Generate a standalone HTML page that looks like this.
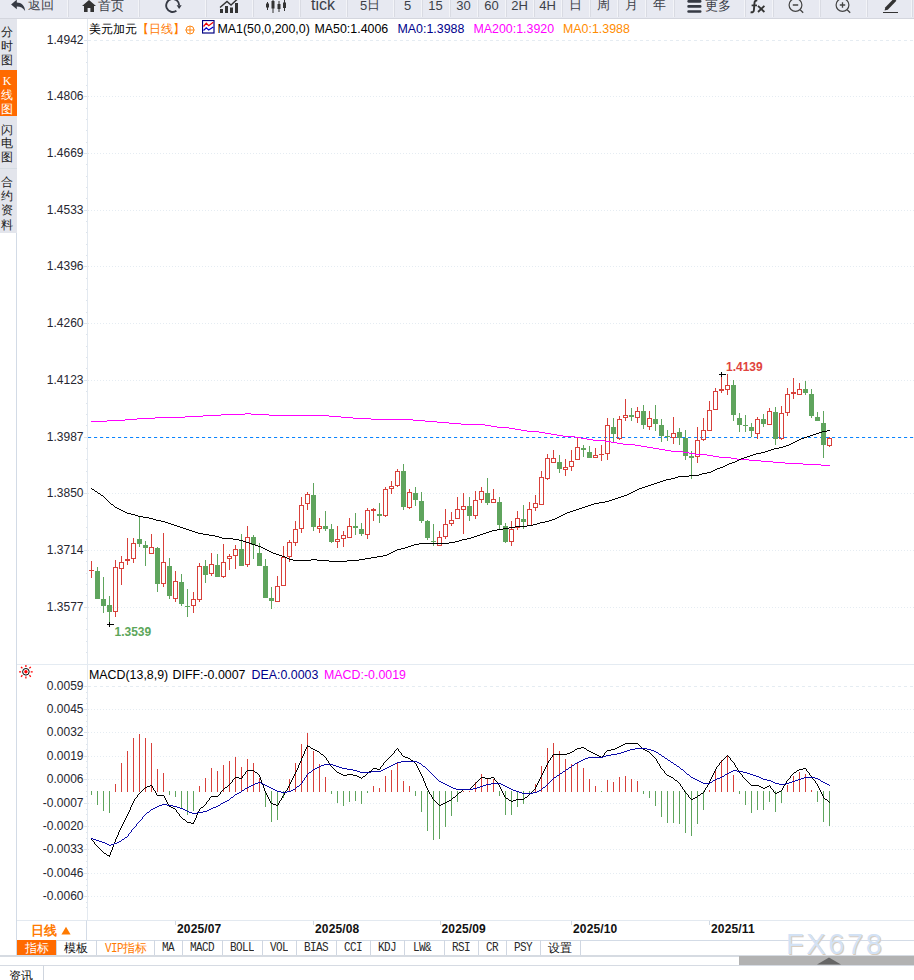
<!DOCTYPE html><html><head><meta charset="utf-8"><title>USDCAD</title><style>
html,body{margin:0;padding:0;background:#fff;}
body{width:914px;height:980px;position:relative;overflow:hidden;font-family:"Liberation Sans",sans-serif;font-size:12px;color:#222;}
.abs{position:absolute;white-space:nowrap;}
.chart{position:absolute;left:0;top:0;}
.tb{position:absolute;left:0;top:0;width:914px;height:18px;background:#e7e9f1;border-bottom:1px solid #d4d6de;}
.tb .b{position:absolute;top:0;height:17px;border-right:1px solid #f3f4f8;box-shadow:1px 0 0 #d9dbe3;font-size:13px;line-height:13px;color:#3c3f48;text-align:center;}
.tb .b span{position:relative;top:-2.2px;}
.side{position:absolute;left:0;width:17px;background:#e3e5ec;color:#222;font-size:12px;text-align:left;box-sizing:border-box;padding-left:0.8px;}
.yl{position:absolute;left:29.5px;width:54px;text-align:right;font-size:12px;line-height:12px;color:#262630;}
.tab{position:absolute;top:940px;height:15px;line-height:17px;overflow:hidden;border-right:1px solid #d0d7e2;text-align:center;font-size:12px;color:#111;box-sizing:border-box;}
.mono{font-family:"Liberation Mono",monospace;font-size:11px;letter-spacing:-0.6px;color:#2a2a2a;}
.mono i{font-style:normal;display:inline-block;transform:scaleY(1.14);transform-origin:50% 60%;}
.dl{position:absolute;top:922px;font-weight:bold;letter-spacing:0.15px;font-size:12px;line-height:14px;color:#111;}
</style></head><body>
<svg class="chart" width="914" height="980" viewBox="0 0 914 980">
<line x1="88" y1="40.5" x2="914" y2="40.5" stroke="#e5ecf2" stroke-dasharray="3 3" shape-rendering="crispEdges"/>
<line x1="88" y1="96.5" x2="914" y2="96.5" stroke="#e5ecf2" stroke-dasharray="1 2" shape-rendering="crispEdges"/>
<line x1="88" y1="153.5" x2="914" y2="153.5" stroke="#e5ecf2" stroke-dasharray="1 2" shape-rendering="crispEdges"/>
<line x1="88" y1="210.5" x2="914" y2="210.5" stroke="#e5ecf2" stroke-dasharray="1 2" shape-rendering="crispEdges"/>
<line x1="88" y1="266.5" x2="914" y2="266.5" stroke="#e5ecf2" stroke-dasharray="1 2" shape-rendering="crispEdges"/>
<line x1="88" y1="323.5" x2="914" y2="323.5" stroke="#e5ecf2" stroke-dasharray="1 2" shape-rendering="crispEdges"/>
<line x1="88" y1="380.5" x2="914" y2="380.5" stroke="#e5ecf2" stroke-dasharray="1 2" shape-rendering="crispEdges"/>
<line x1="88" y1="437.5" x2="914" y2="437.5" stroke="#e5ecf2" stroke-dasharray="1 2" shape-rendering="crispEdges"/>
<line x1="88" y1="493.5" x2="914" y2="493.5" stroke="#e5ecf2" stroke-dasharray="1 2" shape-rendering="crispEdges"/>
<line x1="88" y1="550.5" x2="914" y2="550.5" stroke="#e5ecf2" stroke-dasharray="1 2" shape-rendering="crispEdges"/>
<line x1="88" y1="607.5" x2="914" y2="607.5" stroke="#e5ecf2" stroke-dasharray="1 2" shape-rendering="crispEdges"/>
<line x1="88" y1="686.5" x2="914" y2="686.5" stroke="#e5ecf2" stroke-dasharray="3 3" shape-rendering="crispEdges"/>
<line x1="88" y1="709.5" x2="914" y2="709.5" stroke="#e5ecf2" stroke-dasharray="1 2" shape-rendering="crispEdges"/>
<line x1="88" y1="732.5" x2="914" y2="732.5" stroke="#e5ecf2" stroke-dasharray="1 2" shape-rendering="crispEdges"/>
<line x1="88" y1="756.5" x2="914" y2="756.5" stroke="#e5ecf2" stroke-dasharray="1 2" shape-rendering="crispEdges"/>
<line x1="88" y1="779.5" x2="914" y2="779.5" stroke="#e5ecf2" stroke-dasharray="1 2" shape-rendering="crispEdges"/>
<line x1="88" y1="803.5" x2="914" y2="803.5" stroke="#e5ecf2" stroke-dasharray="1 2" shape-rendering="crispEdges"/>
<line x1="88" y1="826.5" x2="914" y2="826.5" stroke="#e5ecf2" stroke-dasharray="1 2" shape-rendering="crispEdges"/>
<line x1="88" y1="849.5" x2="914" y2="849.5" stroke="#e5ecf2" stroke-dasharray="1 2" shape-rendering="crispEdges"/>
<line x1="88" y1="873.5" x2="914" y2="873.5" stroke="#e5ecf2" stroke-dasharray="1 2" shape-rendering="crispEdges"/>
<line x1="88" y1="896.5" x2="914" y2="896.5" stroke="#e5ecf2" stroke-dasharray="1 2" shape-rendering="crispEdges"/>
<line x1="87.5" y1="19" x2="87.5" y2="920" stroke="#e3e9f0" shape-rendering="crispEdges"/>
<path d="M84 40.5H87 M86 51.5H87 M86 62.5H87 M86 74.5H87 M86 85.5H87 M84 96.5H87 M86 108.5H87 M86 119.5H87 M86 130.5H87 M86 142.5H87 M84 153.5H87 M86 164.5H87 M86 176.5H87 M86 187.5H87 M86 198.5H87 M84 210.5H87 M86 221.5H87 M86 232.5H87 M86 244.5H87 M86 255.5H87 M84 266.5H87 M86 278.5H87 M86 289.5H87 M86 300.5H87 M86 312.5H87 M84 323.5H87 M86 334.5H87 M86 346.5H87 M86 357.5H87 M86 368.5H87 M84 380.5H87 M86 391.5H87 M86 403.5H87 M86 414.5H87 M86 425.5H87 M84 437.5H87 M86 448.5H87 M86 459.5H87 M86 471.5H87 M86 482.5H87 M84 493.5H87 M86 505.5H87 M86 516.5H87 M86 527.5H87 M86 539.5H87 M84 550.5H87 M86 561.5H87 M86 573.5H87 M86 584.5H87 M86 595.5H87 M84 607.5H87 M86 618.5H87 M86 629.5H87 M86 641.5H87 M86 652.5H87 M84 686.5H87 M86 692.5H87 M86 698.5H87 M86 703.5H87 M84 709.5H87 M86 715.5H87 M86 721.5H87 M86 726.5H87 M84 732.5H87 M86 738.5H87 M86 744.5H87 M86 749.5H87 M84 756.5H87 M86 761.5H87 M86 767.5H87 M86 773.5H87 M84 779.5H87 M86 785.5H87 M86 791.5H87 M86 796.5H87 M84 803.5H87 M86 809.5H87 M86 814.5H87 M86 820.5H87 M84 826.5H87 M86 832.5H87 M86 838.5H87 M86 844.5H87 M84 849.5H87 M86 855.5H87 M86 861.5H87 M86 867.5H87 M84 873.5H87 M86 879.5H87 M86 885.5H87 M86 890.5H87 M84 896.5H87 M86 902.5H87 M86 907.5H87" stroke="#dde4ec" shape-rendering="crispEdges" fill="none"/>
<line x1="17" y1="664.5" x2="914" y2="664.5" stroke="#e4ebf2" shape-rendering="crispEdges"/>
 <line x1="16.5" y1="233" x2="16.5" y2="956" stroke="#d3dbe6" shape-rendering="crispEdges"/>
<line x1="88" y1="437.5" x2="914" y2="437.5" stroke="#0a84ff" stroke-dasharray="3 3" shape-rendering="crispEdges"/>
<path d="M97 567h1V599h-1zM95 571h5V599h-5zM103 577h1V613h-1zM101 599h5V606h-5zM109 596h1V622h-1zM107 605h5V612h-5zM139 517h1V547h-1zM137 539h5V544h-5zM145 541h1V566h-1zM143 545h5V548h-5zM157 547h1V592h-1zM155 548h5V584h-5zM169 558h1V599h-1zM167 566h5V596h-5zM181 574h1V606h-1zM179 582h5V604h-5zM187 589h1V617h-1zM185 606h5V607h-5zM205 560h1V583h-1zM203 566h5V575h-5zM217 554h1V577h-1zM215 565h5V577h-5zM241 534h1V566h-1zM239 549h5V566h-5zM253 535h1V559h-1zM251 537h5V545h-5zM259 543h1V566h-1zM257 553h5V566h-5zM265 559h1V598h-1zM263 566h5V598h-5zM271 587h1V609h-1zM269 598h5V601h-5zM313 483h1V531h-1zM311 495h5V527h-5zM325 511h1V531h-1zM323 526h5V529h-5zM331 524h1V543h-1zM329 529h5V542h-5zM355 513h1V535h-1zM353 526h5V528h-5zM361 523h1V536h-1zM359 529h5V534h-5zM379 503h1V523h-1zM377 514h5V516h-5zM403 464h1V510h-1zM401 471h5V507h-5zM415 487h1V506h-1zM413 493h5V500h-5zM421 492h1V523h-1zM419 501h5V521h-5zM427 520h1V540h-1zM425 521h5V538h-5zM433 524h1V546h-1zM431 541h5V542h-5zM469 497h1V521h-1zM467 506h5V516h-5zM487 478h1V505h-1zM485 493h5V503h-5zM499 497h1V529h-1zM497 502h5V525h-5zM505 523h1V543h-1zM503 526h5V542h-5zM523 505h1V529h-1zM521 519h5V522h-5zM559 455h1V473h-1zM557 462h5V469h-5zM583 445h1V457h-1zM581 448h5V450h-5zM589 446h1V458h-1zM587 452h5V458h-5zM613 418h1V442h-1zM611 427h5V434h-5zM631 408h1V421h-1zM629 415h5V417h-5zM643 405h1V429h-1zM641 411h5V425h-5zM655 405h1V431h-1zM653 419h5V424h-5zM661 419h1V442h-1zM659 425h5V436h-5zM667 430h1V441h-1zM665 436h5V437h-5zM679 428h1V445h-1zM677 432h5V438h-5zM685 430h1V460h-1zM683 438h5V456h-5zM691 451h1V479h-1zM689 456h5V458h-5zM733 380h1V421h-1zM731 385h5V415h-5zM739 413h1V432h-1zM737 418h5V425h-5zM745 415h1V432h-1zM743 425h5V426h-5zM751 423h1V437h-1zM749 427h5V431h-5zM763 414h1V427h-1zM761 419h5V424h-5zM775 407h1V445h-1zM773 412h5V439h-5zM805 381h1V395h-1zM803 389h5V393h-5zM811 389h1V418h-1zM809 394h5V416h-5zM817 412h1V421h-1zM815 417h5V421h-5zM823 411h1V458h-1zM821 423h5V445h-5z" fill="#5fa45d" shape-rendering="crispEdges"/>
<path d="M91 561h1V578h-1zM89 570h5v1h-5zM115 560h1V567h-1zM115 612h1V617h-1zM121 556h1V562h-1zM121 569h1V585h-1zM127 538h1V559h-1zM127 561h1V565h-1zM133 538h1V543h-1zM133 559h1V563h-1zM151 534h1V547h-1zM163 533h1V562h-1zM163 584h1V587h-1zM175 571h1V581h-1zM175 599h1V602h-1zM193 592h1V599h-1zM193 606h1V613h-1zM199 563h1V566h-1zM199 600h1V602h-1zM211 553h1V564h-1zM211 574h1V576h-1zM223 544h1V562h-1zM223 577h1V578h-1zM229 554h1V556h-1zM229 559h1V570h-1zM235 545h1V549h-1zM235 556h1V569h-1zM247 526h1V537h-1zM247 565h1V567h-1zM277 576h1V586h-1zM283 546h1V557h-1zM289 540h1V542h-1zM289 557h1V562h-1zM295 521h1V529h-1zM295 543h1V546h-1zM301 497h1V505h-1zM301 529h1V533h-1zM307 492h1V494h-1zM307 504h1V510h-1zM319 518h1V526h-1zM319 529h1V533h-1zM337 526h1V539h-1zM337 542h1V548h-1zM343 531h1V535h-1zM343 539h1V547h-1zM349 518h1V526h-1zM367 508h1V510h-1zM367 535h1V539h-1zM373 508h1V509h-1zM373 511h1V521h-1zM385 487h1V489h-1zM385 516h1V517h-1zM391 481h1V486h-1zM391 489h1V494h-1zM397 469h1V471h-1zM397 486h1V487h-1zM409 489h1V492h-1zM409 508h1V509h-1zM439 531h1V537h-1zM445 509h1V524h-1zM445 537h1V539h-1zM451 512h1V520h-1zM451 524h1V526h-1zM457 497h1V509h-1zM463 493h1V506h-1zM463 510h1V534h-1zM475 491h1V500h-1zM475 516h1V519h-1zM481 487h1V491h-1zM481 500h1V503h-1zM493 489h1V499h-1zM511 521h1V529h-1zM511 542h1V546h-1zM517 511h1V518h-1zM517 528h1V530h-1zM529 502h1V509h-1zM535 495h1V503h-1zM535 508h1V511h-1zM541 471h1V477h-1zM547 454h1V458h-1zM547 479h1V480h-1zM553 450h1V458h-1zM565 459h1V467h-1zM565 470h1V476h-1zM571 450h1V461h-1zM571 467h1V471h-1zM577 438h1V447h-1zM595 448h1V455h-1zM601 445h1V461h-1zM599 454h5v1h-5zM607 418h1V425h-1zM607 454h1V460h-1zM619 416h1V419h-1zM619 439h1V440h-1zM625 399h1V415h-1zM625 418h1V421h-1zM637 407h1V411h-1zM637 418h1V423h-1zM649 411h1V418h-1zM649 427h1V430h-1zM673 417h1V433h-1zM673 438h1V444h-1zM697 427h1V440h-1zM697 457h1V463h-1zM703 418h1V430h-1zM703 440h1V441h-1zM709 401h1V410h-1zM715 388h1V391h-1zM721 375h1V389h-1zM721 391h1V393h-1zM727 374h1V385h-1zM727 390h1V395h-1zM757 417h1V419h-1zM757 434h1V439h-1zM769 408h1V411h-1zM781 406h1V413h-1zM781 439h1V440h-1zM787 388h1V394h-1zM787 413h1V416h-1zM793 378h1V392h-1zM793 394h1V399h-1zM799 383h1V389h-1zM829 437h1V438h-1zM829 446h1V447h-1z" fill="#d8403a" shape-rendering="crispEdges"/>
<path d="M113.5 567.5h4V611.5h-4zM119.5 562.5h4V568.5h-4zM125.5 559.5h4V560.5h-4zM131.5 543.5h4V558.5h-4zM149.5 547.5h4V553.5h-4zM161.5 562.5h4V583.5h-4zM173.5 581.5h4V598.5h-4zM191.5 599.5h4V605.5h-4zM197.5 566.5h4V599.5h-4zM209.5 564.5h4V573.5h-4zM221.5 562.5h4V576.5h-4zM227.5 556.5h4V558.5h-4zM233.5 549.5h4V555.5h-4zM245.5 537.5h4V564.5h-4zM275.5 586.5h4V601.5h-4zM281.5 557.5h4V585.5h-4zM287.5 542.5h4V556.5h-4zM293.5 529.5h4V542.5h-4zM299.5 505.5h4V528.5h-4zM305.5 494.5h4V503.5h-4zM317.5 526.5h4V528.5h-4zM335.5 539.5h4V541.5h-4zM341.5 535.5h4V538.5h-4zM347.5 526.5h4V537.5h-4zM365.5 510.5h4V534.5h-4zM371.5 509.5h4V510.5h-4zM383.5 489.5h4V515.5h-4zM389.5 486.5h4V488.5h-4zM395.5 471.5h4V485.5h-4zM407.5 492.5h4V507.5h-4zM437.5 537.5h4V545.5h-4zM443.5 524.5h4V536.5h-4zM449.5 520.5h4V523.5h-4zM455.5 509.5h4V518.5h-4zM461.5 506.5h4V509.5h-4zM473.5 500.5h4V515.5h-4zM479.5 491.5h4V499.5h-4zM491.5 499.5h4V502.5h-4zM509.5 529.5h4V541.5h-4zM515.5 518.5h4V527.5h-4zM527.5 509.5h4V525.5h-4zM533.5 503.5h4V507.5h-4zM539.5 477.5h4V504.5h-4zM545.5 458.5h4V478.5h-4zM551.5 458.5h4V462.5h-4zM563.5 467.5h4V469.5h-4zM569.5 461.5h4V466.5h-4zM575.5 447.5h4V459.5h-4zM593.5 455.5h4V457.5h-4zM605.5 425.5h4V453.5h-4zM617.5 419.5h4V438.5h-4zM623.5 415.5h4V417.5h-4zM635.5 411.5h4V417.5h-4zM647.5 418.5h4V426.5h-4zM671.5 433.5h4V437.5h-4zM695.5 440.5h4V456.5h-4zM701.5 430.5h4V439.5h-4zM707.5 410.5h4V430.5h-4zM713.5 391.5h4V409.5h-4zM719.5 389.5h4V390.5h-4zM725.5 385.5h4V389.5h-4zM755.5 419.5h4V433.5h-4zM767.5 411.5h4V424.5h-4zM779.5 413.5h4V438.5h-4zM785.5 394.5h4V412.5h-4zM791.5 392.5h4V393.5h-4zM797.5 389.5h4V394.5h-4zM827.5 438.5h4V445.5h-4z" fill="none" stroke="#d8403a" stroke-width="1" shape-rendering="crispEdges"/>
<path d="M203 415h18v1h-18zM269 415h60v1h-60zM91 421h16v1h-16zM425 421h12v1h-12zM785 463h18v1h-18zM821 465h9v1h-9zM497 427h12v1h-12zM221 414h24v1h-24zM251 414h18v1h-18zM107 420h18v1h-18zM413 420h12v1h-12zM587 439h6v1h-6zM605 441h6v1h-6zM125 419h12v1h-12zM371 419h42v1h-42zM803 464h18v1h-18zM593 440h12v1h-12zM155 417h30v1h-30zM341 417h12v1h-12zM737 459h12v1h-12zM761 461h12v1h-12zM449 423h12v1h-12zM749 460h12v1h-12zM773 462h12v1h-12zM437 422h12v1h-12zM461 424h24v1h-24zM491 426h6v1h-6zM185 416h18v1h-18zM329 416h12v1h-12zM137 418h18v1h-18zM353 418h18v1h-18zM623 444h12v1h-12zM665 450h6v1h-6zM671 451h12v1h-12zM635 445h6v1h-6zM647 447h6v1h-6zM557 435h6v1h-6zM515 429h6v1h-6zM527 431h12v1h-12zM485 425h6v1h-6zM653 448h6v1h-6zM695 454h12v1h-12zM575 437h6v1h-6zM707 455h6v1h-6zM719 457h12v1h-12zM545 433h6v1h-6zM731 458h6v1h-6zM641 446h6v1h-6zM611 442h6v1h-6zM563 436h12v1h-12zM659 449h6v1h-6zM617 443h6v1h-6zM713 456h6v1h-6zM683 452h6v1h-6zM551 434h6v1h-6zM521 430h6v1h-6zM245 413h6v1h-6zM581 438h6v1h-6zM539 432h6v1h-6zM509 428h6v1h-6zM689 453h6v1h-6z" fill="#ff00ff" shape-rendering="crispEdges"/>
<path d="M594 503h5v1h-5zM161 521h4v1h-4zM545 521h4v1h-4zM249 543h3v1h-3zM419 543h30v1h-30zM117 508h2v1h-2zM579 508h3v1h-3zM627 494h2v1h-2zM827 430h3v1h-3zM741 458h3v1h-3zM804 437h3v1h-3zM585 506h3v1h-3zM125 512h2v1h-2zM567 512h3v1h-3zM689 475h10v1h-10zM753 454h3v1h-3zM657 482h3v1h-3zM143 517h6v1h-6zM557 517h2v1h-2zM799 439h2v1h-2zM727 464h2v1h-2zM252 544h3v1h-3zM414 544h5v1h-5zM678 476h11v1h-11zM293 560h18v1h-18zM317 560h12v1h-12zM347 560h12v1h-12zM203 534h6v1h-6zM480 534h3v1h-3zM138 516h5v1h-5zM559 516h2v1h-2zM287 558h2v1h-2zM365 558h6v1h-6zM717 468h3v1h-3zM233 539h6v1h-6zM462 539h5v1h-5zM329 561h18v1h-18zM246 542h3v1h-3zM449 542h6v1h-6zM732 462h3v1h-3zM783 446h3v1h-3zM215 536h4v1h-4zM474 536h3v1h-3zM127 513h4v1h-4zM565 513h2v1h-2zM816 433h3v1h-3zM165 522h3v1h-3zM540 522h5v1h-5zM121 510h2v1h-2zM573 510h3v1h-3zM269 551h2v1h-2zM393 551h2v1h-2zM189 530h3v1h-3zM492 530h5v1h-5zM168 523h3v1h-3zM537 523h3v1h-3zM177 526h3v1h-3zM515 526h12v1h-12zM671 478h4v1h-4zM654 483h3v1h-3zM123 511h2v1h-2zM570 511h3v1h-3zM273 553h3v1h-3zM389 553h2v1h-2zM171 524h3v1h-3zM533 524h4v1h-4zM149 518h4v1h-4zM555 518h2v1h-2zM222 538h11v1h-11zM467 538h4v1h-4zM131 514h4v1h-4zM563 514h2v1h-2zM707 472h4v1h-4zM265 549h2v1h-2zM397 549h4v1h-4zM771 449h3v1h-3zM156 520h5v1h-5zM549 520h3v1h-3zM174 525h3v1h-3zM527 525h6v1h-6zM261 547h2v1h-2zM405 547h3v1h-3zM795 441h2v1h-2zM723 466h2v1h-2zM605 501h4v1h-4zM289 559h4v1h-4zM311 559h6v1h-6zM359 559h6v1h-6zM267 550h2v1h-2zM395 550h2v1h-2zM258 546h3v1h-3zM408 546h3v1h-3zM186 529h3v1h-3zM497 529h6v1h-6zM660 481h3v1h-3zM119 509h2v1h-2zM576 509h3v1h-3zM282 556h3v1h-3zM377 556h6v1h-6zM219 537h3v1h-3zM471 537h3v1h-3zM779 447h4v1h-4zM95 491h2v1h-2zM633 491h2v1h-2zM750 455h3v1h-3zM642 487h3v1h-3zM255 545h3v1h-3zM411 545h3v1h-3zM588 505h3v1h-3zM135 515h3v1h-3zM561 515h2v1h-2zM612 499h3v1h-3zM263 548h2v1h-2zM401 548h4v1h-4zM666 479h5v1h-5zM111 504h2v1h-2zM591 504h3v1h-3zM101 495h2v1h-2zM624 495h3v1h-3zM279 555h3v1h-3zM383 555h4v1h-4zM807 436h3v1h-3zM702 473h5v1h-5zM621 496h3v1h-3zM756 453h5v1h-5zM271 552h2v1h-2zM391 552h2v1h-2zM239 540h4v1h-4zM459 540h3v1h-3zM648 485h3v1h-3zM618 497h3v1h-3zM822 431h5v1h-5zM599 502h6v1h-6zM761 452h4v1h-4zM791 443h2v1h-2zM180 527h3v1h-3zM509 527h6v1h-6zM153 519h3v1h-3zM552 519h3v1h-3zM276 554h3v1h-3zM387 554h2v1h-2zM801 438h3v1h-3zM98 493h2v1h-2zM629 493h2v1h-2zM183 528h3v1h-3zM503 528h6v1h-6zM285 557h2v1h-2zM371 557h6v1h-6zM115 507h2v1h-2zM582 507h3v1h-3zM729 463h3v1h-3zM645 486h3v1h-3zM774 448h5v1h-5zM635 490h2v1h-2zM192 531h3v1h-3zM489 531h3v1h-3zM639 488h3v1h-3zM813 434h3v1h-3zM797 440h2v1h-2zM819 432h3v1h-3zM651 484h3v1h-3zM725 465h2v1h-2zM209 535h6v1h-6zM477 535h3v1h-3zM243 541h3v1h-3zM455 541h4v1h-4zM699 474h3v1h-3zM195 532h3v1h-3zM486 532h3v1h-3zM609 500h3v1h-3zM737 460h2v1h-2zM789 444h2v1h-2zM793 442h2v1h-2zM675 477h3v1h-3zM765 451h3v1h-3zM747 456h3v1h-3zM198 533h5v1h-5zM483 533h3v1h-3zM663 480h3v1h-3zM92 489h2v1h-2zM637 489h2v1h-2zM615 498h3v1h-3zM810 435h3v1h-3zM786 445h3v1h-3zM713 470h2v1h-2zM744 457h3v1h-3zM739 459h2v1h-2zM768 450h3v1h-3zM715 469h2v1h-2zM720 467h3v1h-3zM735 461h2v1h-2zM711 471h2v1h-2zM631 492h2v1h-2zM107 500h1v1h-1zM113 505h1v1h-1zM109 502h1v1h-1zM106 499h1v1h-1zM110 503h1v1h-1zM108 501h1v1h-1zM114 506h1v1h-1zM103 496h1v1h-1zM97 492h1v1h-1zM105 498h1v1h-1zM100 494h1v1h-1zM104 497h1v1h-1zM91 488h1v1h-1zM94 490h1v1h-1z" fill="#000" shape-rendering="crispEdges"/>
<path d="M719 374.5h7M721.5 372v5M107 624.5h7M109.5 622v5" stroke="#000" fill="none" shape-rendering="crispEdges"/>
<path d="M91 791h1V795h-1zM97 791h1V805h-1zM103 791h1V811h-1zM109 791h1V813h-1zM169 791h1V795h-1zM175 791h1V797h-1zM181 791h1V809h-1zM187 791h1V815h-1zM193 791h1V811h-1zM265 791h1V807h-1zM271 791h1V822h-1zM277 791h1V820h-1zM283 791h1V798h-1zM331 791h1V794h-1zM337 791h1V803h-1zM343 791h1V806h-1zM349 791h1V802h-1zM355 791h1V801h-1zM361 791h1V804h-1zM367 791h1V793h-1zM415 791h1V796h-1zM421 791h1V812h-1zM427 791h1V831h-1zM433 791h1V840h-1zM439 791h1V839h-1zM445 791h1V827h-1zM451 791h1V816h-1zM457 791h1V802h-1zM499 791h1V796h-1zM505 791h1V815h-1zM511 791h1V815h-1zM517 791h1V807h-1zM523 791h1V804h-1zM529 791h1V795h-1zM601 791h1V792h-1zM643 791h1V794h-1zM649 791h1V798h-1zM655 791h1V806h-1zM661 791h1V817h-1zM667 791h1V823h-1zM673 791h1V823h-1zM679 791h1V824h-1zM685 791h1V833h-1zM691 791h1V836h-1zM697 791h1V824h-1zM703 791h1V810h-1zM739 791h1V794h-1zM745 791h1V805h-1zM751 791h1V813h-1zM757 791h1V810h-1zM763 791h1V810h-1zM769 791h1V802h-1zM775 791h1V812h-1zM781 791h1V803h-1zM817 791h1V802h-1zM823 791h1V822h-1zM829 791h1V826h-1z" fill="#5fa45d" shape-rendering="crispEdges"/>
<path d="M115 784h1V792h-1zM121 763h1V792h-1zM127 751h1V792h-1zM133 738h1V792h-1zM139 734h1V792h-1zM145 738h1V792h-1zM151 743h1V792h-1zM157 769h1V792h-1zM163 773h1V792h-1zM199 786h1V792h-1zM205 778h1V792h-1zM211 768h1V792h-1zM217 771h1V792h-1zM223 765h1V792h-1zM229 761h1V792h-1zM235 757h1V792h-1zM241 767h1V792h-1zM247 759h1V792h-1zM253 763h1V792h-1zM259 778h1V792h-1zM289 779h1V792h-1zM295 763h1V792h-1zM301 744h1V792h-1zM307 733h1V792h-1zM313 751h1V792h-1zM319 764h1V792h-1zM325 777h1V792h-1zM373 786h1V792h-1zM379 788h1V792h-1zM385 776h1V792h-1zM391 770h1V792h-1zM397 762h1V792h-1zM403 781h1V792h-1zM409 786h1V792h-1zM463 791h1V792h-1zM469 791h1V792h-1zM475 782h1V792h-1zM481 774h1V792h-1zM487 778h1V792h-1zM493 779h1V792h-1zM535 784h1V792h-1zM541 766h1V792h-1zM547 748h1V792h-1zM553 743h1V792h-1zM559 751h1V792h-1zM565 759h1V792h-1zM571 764h1V792h-1zM577 763h1V792h-1zM583 768h1V792h-1zM589 779h1V792h-1zM595 786h1V792h-1zM607 780h1V792h-1zM613 782h1V792h-1zM619 777h1V792h-1zM625 776h1V792h-1zM631 779h1V792h-1zM637 781h1V792h-1zM709 790h1V792h-1zM715 770h1V792h-1zM721 760h1V792h-1zM727 756h1V792h-1zM733 775h1V792h-1zM787 785h1V792h-1zM793 776h1V792h-1zM799 772h1V792h-1zM805 774h1V792h-1zM811 790h1V792h-1z" fill="#d8403a" shape-rendering="crispEdges"/>
<path d="M625 743h13v1h-13zM779 791h2v1h-2zM341 774h2v1h-2zM347 774h6v1h-6zM453 797h2v1h-2zM525 797h2v1h-2zM695 797h2v1h-2zM373 768h4v1h-4zM803 768h3v1h-3zM211 796h7v1h-7zM313 749h2v1h-2zM575 749h2v1h-2zM611 749h4v1h-4zM643 749h2v1h-2zM516 799h8v1h-8zM691 799h2v1h-2zM825 799h2v1h-2zM157 795h7v1h-7zM698 795h2v1h-2zM447 801h2v1h-2zM511 801h2v1h-2zM276 805h2v1h-2zM439 805h2v1h-2zM339 773h2v1h-2zM145 787h2v1h-2zM225 787h2v1h-2zM761 787h2v1h-2zM765 787h2v1h-2zM623 744h2v1h-2zM343 775h4v1h-4zM353 775h4v1h-4zM667 775h2v1h-2zM597 755h2v1h-2zM187 822h4v1h-4zM763 788h2v1h-2zM307 746h3v1h-3zM619 746h2v1h-2zM570 752h2v1h-2zM591 752h2v1h-2zM369 771h2v1h-2zM235 777h4v1h-4zM359 777h2v1h-2zM481 777h4v1h-4zM491 777h3v1h-3zM671 777h2v1h-2zM321 754h2v1h-2zM553 754h14v1h-14zM595 754h2v1h-2zM357 776h2v1h-2zM363 776h2v1h-2zM669 776h2v1h-2zM459 792h2v1h-2zM777 792h2v1h-2zM377 769h3v1h-3zM799 769h4v1h-4zM506 798h2v1h-2zM693 798h2v1h-2zM239 778h3v1h-3zM485 778h6v1h-6zM701 793h2v1h-2zM775 793h2v1h-2zM411 760h2v1h-2zM449 800h2v1h-2zM509 800h2v1h-2zM513 800h3v1h-3zM247 770h7v1h-7zM797 770h2v1h-2zM315 750h2v1h-2zM587 750h2v1h-2zM607 750h4v1h-4zM645 750h2v1h-2zM255 772h2v1h-2zM337 772h2v1h-2zM794 772h2v1h-2zM317 751h2v1h-2zM572 751h2v1h-2zM589 751h2v1h-2zM647 751h2v1h-2zM147 786h3v1h-3zM759 786h2v1h-2zM767 786h2v1h-2zM567 753h3v1h-3zM593 753h2v1h-2zM403 756h2v1h-2zM599 756h2v1h-2zM675 780h2v1h-2zM169 806h2v1h-2zM271 803h2v1h-2zM443 803h2v1h-2zM405 757h3v1h-3zM311 748h2v1h-2zM577 748h4v1h-4zM584 748h2v1h-2zM615 748h2v1h-2zM463 789h7v1h-7zM150 785h2v1h-2zM751 785h8v1h-8zM173 808h2v1h-2zM445 802h2v1h-2zM621 745h2v1h-2zM191 823h3v1h-3zM273 804h3v1h-3zM441 804h2v1h-2zM408 758h2v1h-2zM581 747h3v1h-3zM617 747h2v1h-2zM183 819h2v1h-2zM171 807h2v1h-2zM201 807h2v1h-2zM107 855h3v1h-3zM104 853h2v1h-2zM221 791h1v1h-1zM684 790h1v2h-1zM505 797h1v1h-1zM297 768h1v2h-1zM244 774h1v1h-1zM433 799h1v1h-1zM820 790h1v2h-1zM204 805h1v1h-1zM129 810h1v2h-1zM426 786h1v2h-1zM552 755h1v2h-1zM498 784h1v1h-1zM193 822h1v1h-1zM535 787h1v2h-1zM723 759h1v1h-1zM421 774h1v2h-1zM400 752h1v1h-1zM817 784h1v2h-1zM115 839h1v3h-1zM296 770h1v2h-1zM422 776h1v2h-1zM265 791h1v2h-1zM737 768h1v2h-1zM718 765h1v1h-1zM432 797h1v2h-1zM548 761h1v2h-1zM120 828h1v2h-1zM266 793h1v2h-1zM301 758h1v3h-1zM710 779h1v2h-1zM415 763h1v1h-1zM428 790h1v2h-1zM155 791h1v2h-1zM292 778h1v2h-1zM166 800h1v2h-1zM304 751h1v3h-1zM806 769h1v2h-1zM501 789h1v2h-1zM734 763h1v2h-1zM429 792h1v2h-1zM504 795h1v2h-1zM112 847h1v3h-1zM399 751h1v1h-1zM786 781h1v2h-1zM124 820h1v2h-1zM653 756h1v1h-1zM714 771h1v2h-1zM539 779h1v2h-1zM497 782h1v2h-1zM654 757h1v1h-1zM140 792h1v1h-1zM384 762h1v1h-1zM361 778h1v1h-1zM268 797h1v2h-1zM479 779h1v1h-1zM111 850h1v2h-1zM782 788h1v2h-1zM418 768h1v2h-1zM135 798h1v1h-1zM470 788h1v1h-1zM733 762h1v1h-1zM705 788h1v2h-1zM736 767h1v1h-1zM414 762h1v1h-1zM128 812h1v2h-1zM530 793h1v1h-1zM686 793h1v1h-1zM279 801h1v2h-1zM527 796h1v1h-1zM165 798h1v2h-1zM119 830h1v2h-1zM639 745h1v1h-1zM396 749h1v1h-1zM131 805h1v2h-1zM500 787h1v2h-1zM425 783h1v3h-1zM605 752h1v1h-1zM687 794h1v1h-1zM657 761h1v2h-1zM295 772h1v2h-1zM323 755h1v1h-1zM261 780h1v3h-1zM819 788h1v2h-1zM242 776h1v2h-1zM368 772h1v1h-1zM410 759h1v1h-1zM661 768h1v1h-1zM391 755h1v1h-1zM402 755h1v1h-1zM748 782h1v1h-1zM372 769h1v1h-1zM300 761h1v2h-1zM223 789h1v1h-1zM118 832h1v3h-1zM333 768h1v1h-1zM258 774h1v1h-1zM99 848h1v1h-1zM770 786h1v2h-1zM291 780h1v2h-1zM417 766h1v2h-1zM227 786h1v1h-1zM303 754h1v2h-1zM334 769h1v1h-1zM638 744h1v1h-1zM543 771h1v2h-1zM574 750h1v1h-1zM740 773h1v1h-1zM100 849h1v1h-1zM461 791h1v1h-1zM218 795h1v1h-1zM123 822h1v2h-1zM713 773h1v2h-1zM199 809h1v2h-1zM725 757h1v1h-1zM431 795h1v2h-1zM789 778h1v1h-1zM474 784h1v1h-1zM203 806h1v1h-1zM383 763h1v2h-1zM747 781h1v1h-1zM496 781h1v1h-1zM499 785h1v2h-1zM435 801h1v1h-1zM257 773h1v1h-1zM660 766h1v2h-1zM260 777h1v3h-1zM709 781h1v2h-1zM230 783h1v1h-1zM198 811h1v2h-1zM92 840h1v1h-1zM420 772h1v2h-1zM286 790h1v1h-1zM717 766h1v1h-1zM130 807h1v3h-1zM267 795h1v2h-1zM538 781h1v2h-1zM739 772h1v1h-1zM310 747h1v1h-1zM416 764h1v2h-1zM264 788h1v3h-1zM708 783h1v2h-1zM386 760h1v1h-1zM206 802h1v2h-1zM430 794h1v1h-1zM649 752h1v1h-1zM427 788h1v2h-1zM796 771h1v1h-1zM282 796h1v2h-1zM807 771h1v1h-1zM110 852h1v3h-1zM534 789h1v1h-1zM808 772h1v1h-1zM704 790h1v2h-1zM656 759h1v2h-1zM106 854h1v1h-1zM424 781h1v2h-1zM134 799h1v2h-1zM720 762h1v1h-1zM278 803h1v2h-1zM113 844h1v3h-1zM712 775h1v2h-1zM176 810h1v2h-1zM785 783h1v2h-1zM735 765h1v2h-1zM294 774h1v2h-1zM738 770h1v2h-1zM769 785h1v1h-1zM142 790h1v1h-1zM434 800h1v1h-1zM783 786h1v2h-1zM299 763h1v2h-1zM689 797h1v1h-1zM544 769h1v2h-1zM659 764h1v2h-1zM290 782h1v2h-1zM302 756h1v2h-1zM137 795h1v2h-1zM472 786h1v1h-1zM94 842h1v2h-1zM401 753h1v2h-1zM122 824h1v2h-1zM537 783h1v2h-1zM452 798h1v1h-1zM423 778h1v3h-1zM298 765h1v3h-1zM95 844h1v1h-1zM728 756h1v1h-1zM289 784h1v2h-1zM529 794h1v1h-1zM175 809h1v1h-1zM281 798h1v2h-1zM688 795h1v2h-1zM742 775h1v2h-1zM101 850h1v1h-1zM773 790h1v2h-1zM678 782h1v1h-1zM209 798h1v2h-1zM263 785h1v3h-1zM336 771h1v1h-1zM197 813h1v2h-1zM640 746h1v1h-1zM232 780h1v2h-1zM102 851h1v1h-1zM306 747h1v2h-1zM393 753h1v1h-1zM602 756h1v1h-1zM285 791h1v2h-1zM117 835h1v2h-1zM716 767h1v2h-1zM719 763h1v2h-1zM655 758h1v1h-1zM658 763h1v1h-1zM749 783h1v1h-1zM259 775h1v2h-1zM811 776h1v1h-1zM324 756h1v1h-1zM229 784h1v1h-1zM707 785h1v2h-1zM456 795h1v1h-1zM365 775h1v1h-1zM293 776h1v2h-1zM220 792h1v2h-1zM325 757h1v1h-1zM828 801h1v1h-1zM727 755h1v1h-1zM335 770h1v1h-1zM476 782h1v1h-1zM205 804h1v1h-1zM677 781h1v1h-1zM791 775h1v1h-1zM385 761h1v1h-1zM741 774h1v1h-1zM772 789h1v1h-1zM133 801h1v2h-1zM541 775h1v2h-1zM809 773h1v2h-1zM156 793h1v2h-1zM711 777h1v2h-1zM703 792h1v1h-1zM810 775h1v1h-1zM93 841h1v1h-1zM662 769h1v1h-1zM673 778h1v1h-1zM328 761h1v2h-1zM196 815h1v3h-1zM144 788h1v1h-1zM388 758h1v1h-1zM208 800h1v1h-1zM771 788h1v1h-1zM177 812h1v1h-1zM243 775h1v1h-1zM319 752h1v1h-1zM178 813h1v1h-1zM380 767h1v2h-1zM551 757h1v1h-1zM116 837h1v2h-1zM715 769h1v2h-1zM536 785h1v2h-1zM320 753h1v1h-1zM152 786h1v2h-1zM722 760h1v1h-1zM436 802h1v1h-1zM824 798h1v1h-1zM262 783h1v2h-1zM471 787h1v1h-1zM827 800h1v1h-1zM185 820h1v1h-1zM547 763h1v2h-1zM437 803h1v1h-1zM494 778h1v2h-1zM127 814h1v2h-1zM327 760h1v1h-1zM524 798h1v1h-1zM288 786h1v2h-1zM665 773h1v1h-1zM604 753h1v2h-1zM132 803h1v2h-1zM730 758h1v2h-1zM97 846h1v1h-1zM269 799h1v2h-1zM774 792h1v1h-1zM680 784h1v2h-1zM284 793h1v2h-1zM650 753h1v1h-1zM690 798h1v1h-1zM744 778h1v1h-1zM167 802h1v2h-1zM254 771h1v1h-1zM136 797h1v1h-1zM139 793h1v1h-1zM745 779h1v1h-1zM812 777h1v2h-1zM542 773h1v2h-1zM478 780h1v1h-1zM531 792h1v1h-1zM790 776h1v2h-1zM508 799h1v1h-1zM326 758h1v2h-1zM813 779h1v1h-1zM307 745h1v1h-1zM246 771h1v1h-1zM231 782h1v1h-1zM729 757h1v1h-1zM392 754h1v1h-1zM395 750h1v1h-1zM823 796h1v2h-1zM743 777h1v1h-1zM181 817h1v1h-1zM679 783h1v1h-1zM195 818h1v2h-1zM367 773h1v1h-1zM458 793h1v1h-1zM641 747h1v1h-1zM390 756h1v1h-1zM642 748h1v1h-1zM462 790h1v1h-1zM371 770h1v1h-1zM219 794h1v1h-1zM222 790h1v1h-1zM451 799h1v1h-1zM200 808h1v1h-1zM664 771h1v2h-1zM726 756h1v1h-1zM706 787h1v1h-1zM781 790h1v1h-1zM550 758h1v2h-1zM750 784h1v1h-1zM330 764h1v2h-1zM455 796h1v1h-1zM793 773h1v1h-1zM96 845h1v1h-1zM697 796h1v1h-1zM280 800h1v1h-1zM724 758h1v1h-1zM179 814h1v2h-1zM788 779h1v1h-1zM234 778h1v1h-1zM473 785h1v1h-1zM168 804h1v2h-1zM682 787h1v2h-1zM546 765h1v2h-1zM180 816h1v1h-1zM114 842h1v2h-1zM103 852h1v1h-1zM126 816h1v2h-1zM153 788h1v2h-1zM683 789h1v1h-1zM287 788h1v2h-1zM822 794h1v2h-1zM154 790h1v1h-1zM398 749h1v2h-1zM143 789h1v1h-1zM815 781h1v2h-1zM387 759h1v1h-1zM207 801h1v1h-1zM210 797h1v1h-1zM663 770h1v1h-1zM674 779h1v1h-1zM329 763h1v1h-1zM816 783h1v1h-1zM829 802h1v1h-1zM603 755h1v1h-1zM382 765h1v1h-1zM194 820h1v2h-1zM533 790h1v1h-1zM721 761h1v1h-1zM732 761h1v1h-1zM821 792h1v2h-1zM503 793h1v2h-1zM245 772h1v2h-1zM394 751h1v2h-1zM270 801h1v2h-1zM784 785h1v1h-1zM438 804h1v1h-1zM545 767h1v2h-1zM283 795h1v1h-1zM362 777h1v1h-1zM731 760h1v1h-1zM413 761h1v1h-1zM480 778h1v1h-1zM121 826h1v2h-1zM457 794h1v1h-1zM477 781h1v1h-1zM651 754h1v1h-1zM164 796h1v2h-1zM502 791h1v2h-1zM186 821h1v1h-1zM652 755h1v1h-1zM818 786h1v2h-1zM746 780h1v1h-1zM495 780h1v1h-1zM549 760h1v1h-1zM528 795h1v1h-1zM331 766h1v1h-1zM397 748h1v1h-1zM814 780h1v1h-1zM606 751h1v1h-1zM540 777h1v2h-1zM141 791h1v1h-1zM666 774h1v1h-1zM305 749h1v2h-1zM332 767h1v1h-1zM98 847h1v1h-1zM125 818h1v2h-1zM419 770h1v2h-1zM601 757h1v1h-1zM366 774h1v1h-1zM681 786h1v1h-1zM224 788h1v1h-1zM138 794h1v1h-1zM685 792h1v1h-1zM182 818h1v1h-1zM792 774h1v1h-1zM91 839h1v1h-1zM700 794h1v1h-1zM475 783h1v1h-1zM787 780h1v1h-1zM233 779h1v1h-1zM381 766h1v1h-1zM109 856h1v1h-1zM532 791h1v1h-1zM228 785h1v1h-1zM586 749h1v1h-1zM389 757h1v1h-1z" fill="#000" shape-rendering="crispEdges"/>
<path d="M313 769h2v1h-2zM347 769h6v1h-6zM383 769h2v1h-2zM566 769h2v1h-2zM681 769h2v1h-2zM242 790h2v1h-2zM275 790h2v1h-2zM291 790h2v1h-2zM513 790h3v1h-3zM539 790h2v1h-2zM621 752h3v1h-3zM656 752h2v1h-2zM554 777h2v1h-2zM691 777h2v1h-2zM720 777h2v1h-2zM759 777h2v1h-2zM804 777h11v1h-11zM588 757h15v1h-15zM585 758h3v1h-3zM665 758h2v1h-2zM697 780h2v1h-2zM713 780h2v1h-2zM767 780h4v1h-4zM795 780h3v1h-3zM687 774h2v1h-2zM725 774h2v1h-2zM750 774h3v1h-3zM249 786h2v1h-2zM267 786h2v1h-2zM297 786h2v1h-2zM449 786h2v1h-2zM480 786h3v1h-3zM505 786h2v1h-2zM581 760h2v1h-2zM668 760h2v1h-2zM324 764h9v1h-9zM393 764h2v1h-2zM674 764h2v1h-2zM153 808h2v1h-2zM180 808h3v1h-3zM211 808h2v1h-2zM162 804h5v1h-5zM395 763h2v1h-2zM419 763h2v1h-2zM575 763h2v1h-2zM96 840h3v1h-3zM357 771h3v1h-3zM371 771h10v1h-10zM563 771h2v1h-2zM731 771h2v1h-2zM737 771h6v1h-6zM439 781h2v1h-2zM699 781h2v1h-2zM771 781h2v1h-2zM792 781h3v1h-3zM821 781h2v1h-2zM157 806h2v1h-2zM173 806h4v1h-4zM216 806h2v1h-2zM722 776h2v1h-2zM756 776h3v1h-3zM192 813h5v1h-5zM627 750h3v1h-3zM651 750h3v1h-3zM253 784h2v1h-2zM263 784h2v1h-2zM445 784h2v1h-2zM486 784h5v1h-5zM501 784h2v1h-2zM779 784h6v1h-6zM827 784h2v1h-2zM606 755h5v1h-5zM185 810h2v1h-2zM207 810h2v1h-2zM147 812h2v1h-2zM189 812h3v1h-3zM197 812h6v1h-6zM245 788h2v1h-2zM271 788h2v1h-2zM453 788h3v1h-3zM473 788h4v1h-4zM509 788h2v1h-2zM237 793h2v1h-2zM522 793h11v1h-11zM353 770h4v1h-4zM381 770h2v1h-2zM733 770h4v1h-4zM99 841h3v1h-3zM119 841h2v1h-2zM258 782h3v1h-3zM441 782h2v1h-2zM701 782h2v1h-2zM710 782h2v1h-2zM773 782h2v1h-2zM789 782h3v1h-3zM823 782h2v1h-2zM247 787h2v1h-2zM269 787h2v1h-2zM451 787h2v1h-2zM477 787h3v1h-3zM507 787h2v1h-2zM543 787h2v1h-2zM321 765h3v1h-3zM333 765h3v1h-3zM391 765h2v1h-2zM572 765h2v1h-2zM273 789h2v1h-2zM293 789h2v1h-2zM456 789h17v1h-17zM511 789h2v1h-2zM239 792h2v1h-2zM281 792h6v1h-6zM519 792h3v1h-3zM533 792h4v1h-4zM105 843h2v1h-2zM114 843h3v1h-3zM557 775h2v1h-2zM753 775h3v1h-3zM695 779h2v1h-2zM715 779h2v1h-2zM763 779h4v1h-4zM798 779h3v1h-3zM818 779h2v1h-2zM397 762h4v1h-4zM417 762h2v1h-2zM577 762h2v1h-2zM671 762h2v1h-2zM255 783h3v1h-3zM261 783h2v1h-2zM443 783h2v1h-2zM491 783h10v1h-10zM703 783h7v1h-7zM775 783h4v1h-4zM785 783h4v1h-4zM825 783h2v1h-2zM317 767h2v1h-2zM339 767h3v1h-3zM387 767h2v1h-2zM569 767h2v1h-2zM635 748h12v1h-12zM401 761h16v1h-16zM579 761h2v1h-2zM315 768h2v1h-2zM342 768h5v1h-5zM385 768h2v1h-2zM603 756h3v1h-3zM662 756h2v1h-2zM693 778h2v1h-2zM717 778h3v1h-3zM761 778h2v1h-2zM801 778h3v1h-3zM815 778h3v1h-3zM251 785h2v1h-2zM265 785h2v1h-2zM447 785h2v1h-2zM483 785h3v1h-3zM503 785h2v1h-2zM611 754h6v1h-6zM659 754h2v1h-2zM277 791h4v1h-4zM287 791h4v1h-4zM516 791h3v1h-3zM537 791h2v1h-2zM159 805h3v1h-3zM167 805h6v1h-6zM218 805h2v1h-2zM309 772h2v1h-2zM360 772h11v1h-11zM729 772h2v1h-2zM743 772h4v1h-4zM630 749h5v1h-5zM647 749h4v1h-4zM102 842h3v1h-3zM117 842h2v1h-2zM617 753h4v1h-4zM560 773h2v1h-2zM727 773h2v1h-2zM747 773h3v1h-3zM187 811h2v1h-2zM203 811h4v1h-4zM583 759h2v1h-2zM151 809h2v1h-2zM183 809h2v1h-2zM209 809h2v1h-2zM107 844h2v1h-2zM111 844h3v1h-3zM125 837h2v1h-2zM624 751h3v1h-3zM654 751h2v1h-2zM319 766h2v1h-2zM336 766h3v1h-3zM389 766h2v1h-2zM423 766h2v1h-2zM677 766h2v1h-2zM155 807h2v1h-2zM177 807h3v1h-3zM213 807h3v1h-3zM93 839h3v1h-3zM122 839h2v1h-2zM91 838h2v1h-2zM225 801h2v1h-2zM221 803h2v1h-2zM109 845h2v1h-2zM227 800h2v1h-2zM231 797h2v1h-2zM223 802h2v1h-2zM235 794h2v1h-2zM549 782h1v1h-1zM658 753h1v1h-1zM127 836h1v1h-1zM302 781h1v2h-1zM142 817h1v2h-1zM712 781h1v1h-1zM140 820h1v1h-1zM422 765h1v1h-1zM296 787h1v1h-1zM136 824h1v2h-1zM139 821h1v1h-1zM300 784h1v1h-1zM135 826h1v1h-1zM686 773h1v1h-1zM230 798h1v1h-1zM724 775h1v1h-1zM689 775h1v1h-1zM131 830h1v2h-1zM229 799h1v1h-1zM556 776h1v1h-1zM664 757h1v1h-1zM241 791h1v1h-1zM568 768h1v1h-1zM145 814h1v1h-1zM146 813h1v1h-1zM559 774h1v1h-1zM141 819h1v1h-1zM143 816h1v1h-1zM144 815h1v1h-1zM149 811h1v1h-1zM541 789h1v1h-1zM306 775h1v2h-1zM542 788h1v1h-1zM304 778h1v2h-1zM547 784h1v1h-1zM684 771h1v1h-1zM435 777h1v1h-1zM301 783h1v1h-1zM303 780h1v1h-1zM545 786h1v1h-1zM820 780h1v1h-1zM431 773h1v1h-1zM426 768h1v1h-1zM299 785h1v1h-1zM427 769h1v1h-1zM673 763h1v1h-1zM829 785h1v1h-1zM137 823h1v1h-1zM676 765h1v1h-1zM661 755h1v1h-1zM133 828h1v1h-1zM233 796h1v1h-1zM428 770h1v1h-1zM234 795h1v1h-1zM667 759h1v1h-1zM134 827h1v1h-1zM683 770h1v1h-1zM433 775h1v1h-1zM129 833h1v1h-1zM130 832h1v1h-1zM132 829h1v1h-1zM429 771h1v1h-1zM150 810h1v1h-1zM425 767h1v1h-1zM244 789h1v1h-1zM128 834h1v2h-1zM571 766h1v1h-1zM562 772h1v1h-1zM546 785h1v1h-1zM574 764h1v1h-1zM430 772h1v1h-1zM121 840h1v1h-1zM685 772h1v1h-1zM552 779h1v1h-1zM305 777h1v1h-1zM307 774h1v1h-1zM436 778h1v1h-1zM565 770h1v1h-1zM138 822h1v1h-1zM432 774h1v1h-1zM679 767h1v1h-1zM680 768h1v1h-1zM421 764h1v1h-1zM438 780h1v1h-1zM434 776h1v1h-1zM220 804h1v1h-1zM553 778h1v1h-1zM295 788h1v1h-1zM308 773h1v1h-1zM311 771h1v1h-1zM312 770h1v1h-1zM124 838h1v1h-1zM690 776h1v1h-1zM437 779h1v1h-1zM550 781h1v1h-1zM551 780h1v1h-1zM670 761h1v1h-1zM548 783h1v1h-1z" fill="#0808a8" shape-rendering="crispEdges"/>
<g transform="translate(25.9 671.8)"><circle r="3.3" fill="none" stroke="#000" stroke-width="1"/><circle r="1.7" fill="#f00"/><path d="M-6.8 0h2M4.8 0h2M0 -6.8v2M0 4.8v2M-4.9 -4.9l1.4 1.4M3.5 3.5l1.4 1.4M-4.9 4.9l1.4 -1.4M3.5 -3.5l1.4 -1.4" stroke="#f00" stroke-width="1.25" fill="none"/></g>
</svg>
<div class="tb">
<div class="b" style="left:0px;width:67px"><svg width="16" height="14" viewBox="0 0 16 14" style="position:absolute;left:11px;top:-1px"><path d="M0.1 5.4L5.8 0.6V3.4C10.5 3.4 13.7 6.4 14.1 11.9C12 9 9.5 7.5 5.8 7.5V10.2Z" fill="#363a44"/></svg><span style="left:7.3px">返回</span></div>
<div class="b" style="left:68px;width:70px"><svg width="14" height="12" viewBox="0 0 14 12" style="position:relative;top:0px;margin-right:2px"><path d="M7 0L0 6h2v6h3.6V8h2.8v4H12V6h2L7 0z" fill="#333"/></svg><span>首页</span></div>
<div class="b" style="left:139px;width:66px"><svg width="19" height="16" viewBox="0 0 19 16" style="position:absolute;left:25px;top:-2px"><path d="M12.43 12.82A6.5 6.5 0 1 1 15.2 7.3" fill="none" stroke="#363a44" stroke-width="1.9"/><path d="M12.6 7.2h5.1L15.15 10.9z" fill="#363a44"/></svg></div>
<div class="b" style="left:206px;width:46px"><svg width="20" height="14" viewBox="0 0 20 14" style="position:relative;top:0"><path d="M1 13V9h3v4zM6 13V6h3v7zM11 13V7.5h3V13zM16 13V3h3v10z" fill="#333"/><path d="M1 7.5L8 1.5l4 3.5L18.5-1" fill="none" stroke="#333" stroke-width="1.4"/></svg></div>
<div class="b" style="left:253px;width:46px"><svg width="22" height="13" viewBox="0 0 22 13" style="position:relative;top:0"><path d="M2.5 2v8M8 -1v14M14 1v11M19.5 -1v12" stroke="#333" stroke-width="1" fill="none"/><path d="M1 3.5h3v4H1zM6.5 1h3v7.5h-3zM12.5 4h3v5h-3zM18 2.5h3v5.5h-3z" fill="#333"/></svg></div>
<div class="b" style="left:300px;width:46px"><span style="font-size:16px;position:relative;top:-2px">tick</span></div>
<div class="b" style="left:347px;width:46px"><span><span style="top:0.8px;position:relative">5</span>日</span></div>
<div class="b" style="left:394px;width:27px"><span style="top:-1.5px">5</span></div>
<div class="b" style="left:422px;width:27px"><span style="top:-1.5px">15</span></div>
<div class="b" style="left:450px;width:27px"><span style="top:-1.5px">30</span></div>
<div class="b" style="left:478px;width:27px"><span style="top:-1.5px">60</span></div>
<div class="b" style="left:506px;width:27px"><span style="top:-1.5px">2H</span></div>
<div class="b" style="left:534px;width:27px"><span style="top:-1.5px">4H</span></div>
<div class="b" style="left:562px;width:27px"><span>日</span></div>
<div class="b" style="left:590px;width:27px"><span>周</span></div>
<div class="b" style="left:618px;width:27px"><span>月</span></div>
<div class="b" style="left:646px;width:27px"><span>年</span></div>
<div class="b" style="left:674px;width:70px"><svg width="15" height="13" viewBox="0 0 15 13" style="position:relative;top:0.2px;margin-right:3px"><path d="M1.6 1.3h11.6M1.6 6.4h11.6M1.6 11.5h11.6" stroke="#363a44" stroke-width="2.7" stroke-linecap="round"/></svg><span style="top:-3px">更多</span></div>
<div class="b" style="left:745px;width:27px"><svg width="17" height="14" viewBox="0 0 17 14" style="position:relative;top:-0.5px;left:-1.5px"><path d="M8.3 0.6C6.4 0.2 5.6 1.2 5.5 2.8L4.9 10.2C4.8 11.8 3.6 12.6 1.6 12.2" fill="none" stroke="#333" stroke-width="1.9"/><path d="M2.6 5.4h5.4" stroke="#333" stroke-width="1.7"/><path d="M9 5.8l6.4 6.2M15.4 5.8L9 12" stroke="#333" stroke-width="1.8"/></svg></div>
<div class="b" style="left:773px;width:46px"><svg width="18" height="15" viewBox="0 0 18 15" style="position:relative;top:-1.5px;left:1px"><circle cx="7.5" cy="6" r="6.4" fill="none" stroke="#444" stroke-width="1.2"/><path d="M4.8 6h5.4M12.2 10.8l3 3" stroke="#444" stroke-width="1.3" fill="none"/></svg></div>
<div class="b" style="left:820px;width:46px"><svg width="18" height="15" viewBox="0 0 18 15" style="position:relative;top:-1.5px;left:1px"><circle cx="7.5" cy="6" r="6.4" fill="none" stroke="#444" stroke-width="1.2"/><path d="M4.8 6h5.4M7.5 3.3v5.4M12.2 10.8l3 3" stroke="#444" stroke-width="1.3" fill="none"/></svg></div>
<div class="b" style="left:867px;width:44px"><svg width="18" height="14" viewBox="0 0 18 14" style="position:relative;top:-1.5px;left:2px"><path d="M3.4 8.3L12 -0.6l2.4 2.4L5.8 10.7 2.6 11.5z" fill="#333"/><path d="M1 13.6h15" stroke="#333" stroke-width="1.2"/></svg></div>
</div>
<div class="side" style="top:19px;height:51px;line-height:14px"><div style="padding-top:5.5px">分<br>时<br>图</div></div>
<div class="side" style="top:70px;height:46px;line-height:14px;background:#ff6a00;color:#fff"><div style="padding-top:4px"><span style="font-family:'Liberation Serif',serif;padding-left:2px">K</span><br>线<br>图</div></div>
<div class="side" style="top:116px;height:53px;line-height:13.5px;border-bottom:1px solid #d5dce2"><div style="padding-top:7.7px">闪<br>电<br>图</div></div>
<div class="side" style="top:169px;height:63.5px;line-height:14.2px"><div style="padding-top:6px">合<br>约<br>资<br>料</div></div>
<div class="abs" style="left:89px;top:22px;line-height:14px;font-size:12px;color:#000">美元加元</div>
<div class="abs" style="left:137px;top:22px;line-height:14px;font-size:12px;color:#ff7a00;">【日线】</div>
<svg class="abs" style="left:185px;top:25px" width="10" height="10" viewBox="0 0 10 10"><circle cx="5" cy="5" r="4" fill="none" stroke="#ff8a1a" stroke-width="1"/><path d="M0.5 5h9M5 1v8" stroke="#ff8a1a" stroke-width="1"/></svg>
<svg class="abs" style="left:202px;top:20px" width="13" height="14" viewBox="0 0 13 14"><rect x="0.5" y="0.5" width="11.5" height="12.5" fill="#fff" stroke="#000080" stroke-width="1.2"/><path d="M1.5 6.5l2.8-3.4 2.4 2.6 4.6-3.4" fill="none" stroke="#e00" stroke-width="1.2"/><path d="M1.5 10.5l2.8-2.6 2.4 2 4.6-3" fill="none" stroke="#00c" stroke-width="1.2"/></svg>
<div class="abs" style="left:217.5px;top:22px;line-height:14px;font-size:12.4px;color:#000;">MA1(50,0,200,0)</div>
<div class="abs" style="left:314.5px;top:22px;line-height:14px;font-size:12.4px;color:#000;">MA50:1.4006</div>
<div class="abs" style="left:397.5px;top:22px;line-height:14px;font-size:12.4px;color:#00008b;">MA0:1.3988</div>
<div class="abs" style="left:473.5px;top:22px;line-height:14px;font-size:12.4px;color:#ff00ff;">MA200:1.3920</div>
<div class="abs" style="left:563px;top:22px;line-height:14px;font-size:12.4px;color:#ff8c00;">MA0:1.3988</div>
<div class="abs" style="left:89px;top:668px;line-height:14px;font-size:12.4px;color:#000;">MACD(13,8,9)</div>
<div class="abs" style="left:172.5px;top:668px;line-height:14px;font-size:12.4px;color:#000;">DIFF:-0.0007</div>
<div class="abs" style="left:251.5px;top:668px;line-height:14px;font-size:12.4px;color:#00008b;">DEA:0.0003</div>
<div class="abs" style="left:324px;top:668px;line-height:14px;font-size:12.4px;color:#ff00ff;">MACD:-0.0019</div>
<div class="yl" style="top:34.2px">1.4942</div>
<div class="yl" style="top:90.2px">1.4806</div>
<div class="yl" style="top:147.2px">1.4669</div>
<div class="yl" style="top:204.2px">1.4533</div>
<div class="yl" style="top:260.2px">1.4396</div>
<div class="yl" style="top:317.2px">1.4260</div>
<div class="yl" style="top:374.2px">1.4123</div>
<div class="yl" style="top:431.2px">1.3987</div>
<div class="yl" style="top:487.2px">1.3850</div>
<div class="yl" style="top:544.2px">1.3714</div>
<div class="yl" style="top:601.2px">1.3577</div>
<div class="yl" style="top:680.2px">0.0059</div>
<div class="yl" style="top:703.2px">0.0045</div>
<div class="yl" style="top:726.2px">0.0032</div>
<div class="yl" style="top:750.2px">0.0019</div>
<div class="yl" style="top:773.2px">0.0006</div>
<div class="yl" style="top:797.2px">-0.0007</div>
<div class="yl" style="top:820.2px">-0.0020</div>
<div class="yl" style="top:843.2px">-0.0033</div>
<div class="yl" style="top:867.2px">-0.0046</div>
<div class="yl" style="top:890.2px">-0.0060</div>
<div class="abs" style="left:726px;top:360px;font-weight:bold;font-size:12px;line-height:14px;color:#e0443e">1.4139</div>
<div class="abs" style="left:114.5px;top:625px;font-weight:bold;font-size:12px;line-height:14px;color:#5ca65a;">1.3539</div>
<div class="abs" style="left:17px;top:920px;width:897px;height:0;border-top:1px solid #e3e9f0"></div>
<div class="abs" style="left:17px;top:940px;width:897px;height:0;border-top:1px solid #d3dbe6"></div>
<div class="abs" style="left:17px;top:920px;width:70px;height:20px;border-right:1px solid #d3dbe6;border-top:1px solid #e3e9f0;box-sizing:border-box;background:#fff;color:#ff7a00;font-weight:bold;font-size:12.6px;line-height:19px;padding-left:13.5px;padding-top:1px">日线</div>
<svg class="abs" style="left:61px;top:926px" width="10" height="9" viewBox="0 0 10 9"><path d="M5 0.8L9.6 8.6H0.4z" fill="#ff7a00"/></svg>
<div class="dl" style="left:177px">2025/07</div>
<div class="abs" style="left:175px;top:921px;width:1px;height:4px;background:#cfd8e3"></div>
<div class="dl" style="left:315px">2025/08</div>
<div class="abs" style="left:313px;top:921px;width:1px;height:4px;background:#cfd8e3"></div>
<div class="dl" style="left:441.5px">2025/09</div>
<div class="abs" style="left:439.5px;top:921px;width:1px;height:4px;background:#cfd8e3"></div>
<div class="dl" style="left:573px">2025/10</div>
<div class="abs" style="left:571px;top:921px;width:1px;height:4px;background:#cfd8e3"></div>
<div class="dl" style="left:711px">2025/11</div>
<div class="abs" style="left:709px;top:921px;width:1px;height:4px;background:#cfd8e3"></div>
<div class="tab" style="left:17px;width:40px;background:#ff6a00;color:#fff;">指标</div>
<div class="tab" style="left:56px;width:41px;">模板</div>
<div class="tab" style="left:96px;width:59px;color:#ff7a00;"><span class="mono" style="color:#ff7a00;padding-left:2px"><i>VIP</i></span>指标</div>
<div class="tab mono" style="left:154px;width:29px;"><i>MA</i></div>
<div class="tab mono" style="left:182px;width:41px;"><i>MACD</i></div>
<div class="tab mono" style="left:222px;width:41px;"><i>BOLL</i></div>
<div class="tab mono" style="left:262px;width:35px;"><i>VOL</i></div>
<div class="tab mono" style="left:296px;width:41px;"><i>BIAS</i></div>
<div class="tab mono" style="left:336px;width:35px;"><i>CCI</i></div>
<div class="tab mono" style="left:370px;width:35px;"><i>KDJ</i></div>
<div class="tab" style="left:444px;width:1px"></div>
<div class="tab mono" style="left:404px;width:36px;border-right:none;"><i>LW&amp;</i></div>
<div class="tab mono" style="left:444px;width:35px;"><i>RSI</i></div>
<div class="tab mono" style="left:478px;width:29px;"><i>CR</i></div>
<div class="tab mono" style="left:506px;width:35px;"><i>PSY</i></div>
<div class="tab" style="left:540px;width:41px;">设置</div>
<div class="abs" style="left:0;top:955px;width:914px;height:0;border-top:2px solid #d6dbe2"></div>
<div class="abs" style="left:739px;top:956px;width:175px;height:10px;background:#b2b2b2"></div>
<svg class="abs" style="left:816px;top:957px" width="26" height="8" viewBox="0 0 26 8"><path d="M1 7.5L13 0.5 25 7.5z" fill="#666"/></svg>
<div class="abs" style="left:0;top:965px;width:914px;height:0;border-top:1px solid #d6dbe3"></div>
<div class="abs" style="left:0;top:965px;width:44px;height:16px;border-right:1px solid #cfd5de;border-top:1px solid #d6dbe3;box-sizing:border-box;background:#fff;font-size:12px;line-height:21px;padding-left:9px;color:#111">资讯</div>
<div class="abs" style="left:786px;top:929px;font-size:29px;line-height:30px;letter-spacing:2.6px;color:#d3e2f5;text-shadow:1px 1px 0 #d9cdbf;">FX678</div>
</body></html>
